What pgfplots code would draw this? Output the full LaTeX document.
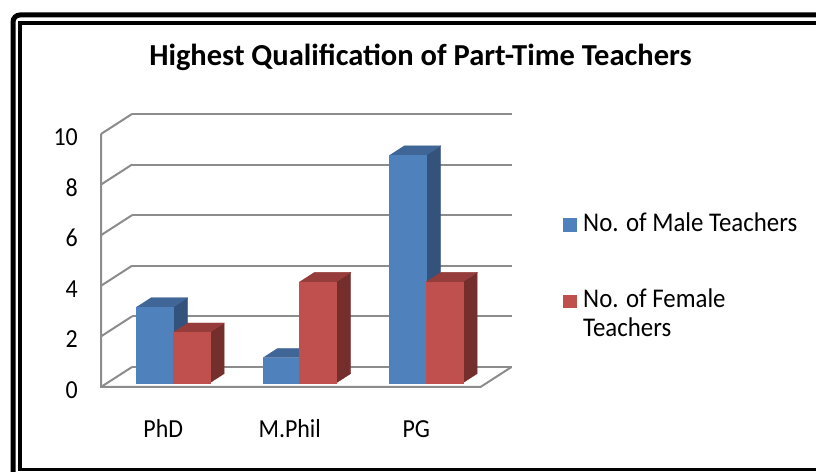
\documentclass[border=0pt]{standalone}
\usepackage{pgfplots}
\pgfplotsset{compat=1.18}
\usepackage{fontspec}
\setmainfont{Carlito}
\newfontfamily\condfont[FakeStretch=0.92]{Carlito}
\definecolor{bfront}{HTML}{4F81BD}
\definecolor{btop}{HTML}{3F6696}
\definecolor{bside}{HTML}{33527C}
\definecolor{rfront}{HTML}{C0504D}
\definecolor{rtop}{HTML}{963D3B}
\definecolor{rside}{HTML}{742E2C}
\definecolor{gridc}{HTML}{8C8C8C}
\newcommand{\lblfont}{\condfont\fontsize{26bp}{30bp}\selectfont}
\newcommand{\legfont}{\condfont\fontsize{27bp}{31bp}\selectfont}
\begin{document}
\begin{tikzpicture}
\begin{scope}[x=1bp,y=1bp]
\path[use as bounding box, clip] (0,0) rectangle (816,472);
\draw[line width=5bp, rounded corners=7bp] (13,-20) rectangle (840,457);
\draw[line width=3.5bp] (20,2.5) rectangle (840,449);
\node[anchor=base, inner sep=0pt, font=\bfseries\fontsize{30.5bp}{35bp}\selectfont] at (420.5,406) {Highest Qualification of Part-Time Teachers};
\end{scope}
\begin{axis}[at={(101bp,85bp)}, anchor=origin,
  x={(126.5bp,0bp)}, y={(31bp,20bp)}, z={(0bp,25.3bp)},
  xmin=0, xmax=3, ymin=0, ymax=1, zmin=0, zmax=10,
  hide axis, clip=false]
% walls and floor
\addplot3[gridc, line width=2bp] coordinates {(0,1,0) (3,1,0)};
\addplot3[gridc, line width=2bp] coordinates {(0,1,2) (3,1,2)};
\addplot3[gridc, line width=2bp] coordinates {(0,1,4) (3,1,4)};
\addplot3[gridc, line width=2bp] coordinates {(0,1,6) (3,1,6)};
\addplot3[gridc, line width=2bp] coordinates {(0,1,8) (3,1,8)};
\addplot3[gridc, line width=2bp] coordinates {(0,1,10) (3,1,10)};
\addplot3[gridc, line width=2bp] coordinates {(0,0,0) (0,1,0)};
\addplot3[gridc, line width=2bp] coordinates {(0,0,2) (0,1,2)};
\addplot3[gridc, line width=2bp] coordinates {(0,0,4) (0,1,4)};
\addplot3[gridc, line width=2bp] coordinates {(0,0,6) (0,1,6)};
\addplot3[gridc, line width=2bp] coordinates {(0,0,8) (0,1,8)};
\addplot3[gridc, line width=2bp] coordinates {(0,0,10) (0,1,10)};
\addplot3[gridc, line width=2bp] coordinates {(0,0,10) (0,0,0) (3,0,0) (3,1,0)};
% PhD: male 3, female 2
\addplot3[fill=bside, draw=bside, line width=0.3bp] coordinates {(0.52,0.2,0) (0.52,0.67,0) (0.52,0.67,3) (0.52,0.2,3)};
\addplot3[fill=btop, draw=btop, line width=0.3bp] coordinates {(0.23,0.2,3) (0.52,0.2,3) (0.52,0.67,3) (0.23,0.67,3)};
\addplot3[fill=bfront, draw=bfront, line width=0.3bp] coordinates {(0.23,0.2,0) (0.52,0.2,0) (0.52,0.2,3) (0.23,0.2,3)};
\addplot3[fill=rside, draw=rside, line width=0.3bp] coordinates {(0.81,0.2,0) (0.81,0.67,0) (0.81,0.67,2) (0.81,0.2,2)};
\addplot3[fill=rtop, draw=rtop, line width=0.3bp] coordinates {(0.52,0.2,2) (0.81,0.2,2) (0.81,0.67,2) (0.52,0.67,2)};
\addplot3[fill=rfront, draw=rfront, line width=0.3bp] coordinates {(0.52,0.2,0) (0.81,0.2,0) (0.81,0.2,2) (0.52,0.2,2)};
% M.Phil: male 1, female 4
\addplot3[fill=bside, draw=bside, line width=0.3bp] coordinates {(1.52,0.2,0) (1.52,0.67,0) (1.52,0.67,1) (1.52,0.2,1)};
\addplot3[fill=btop, draw=btop, line width=0.3bp] coordinates {(1.23,0.2,1) (1.52,0.2,1) (1.52,0.67,1) (1.23,0.67,1)};
\addplot3[fill=bfront, draw=bfront, line width=0.3bp] coordinates {(1.23,0.2,0) (1.52,0.2,0) (1.52,0.2,1) (1.23,0.2,1)};
\addplot3[fill=rside, draw=rside, line width=0.3bp] coordinates {(1.81,0.2,0) (1.81,0.67,0) (1.81,0.67,4) (1.81,0.2,4)};
\addplot3[fill=rtop, draw=rtop, line width=0.3bp] coordinates {(1.52,0.2,4) (1.81,0.2,4) (1.81,0.67,4) (1.52,0.67,4)};
\addplot3[fill=rfront, draw=rfront, line width=0.3bp] coordinates {(1.52,0.2,0) (1.81,0.2,0) (1.81,0.2,4) (1.52,0.2,4)};
% PG: male 9, female 4
\addplot3[fill=bside, draw=bside, line width=0.3bp] coordinates {(2.52,0.2,0) (2.52,0.67,0) (2.52,0.67,9) (2.52,0.2,9)};
\addplot3[fill=btop, draw=btop, line width=0.3bp] coordinates {(2.23,0.2,9) (2.52,0.2,9) (2.52,0.67,9) (2.23,0.67,9)};
\addplot3[fill=bfront, draw=bfront, line width=0.3bp] coordinates {(2.23,0.2,0) (2.52,0.2,0) (2.52,0.2,9) (2.23,0.2,9)};
\addplot3[fill=rside, draw=rside, line width=0.3bp] coordinates {(2.81,0.2,0) (2.81,0.67,0) (2.81,0.67,4) (2.81,0.2,4)};
\addplot3[fill=rtop, draw=rtop, line width=0.3bp] coordinates {(2.52,0.2,4) (2.81,0.2,4) (2.81,0.67,4) (2.52,0.67,4)};
\addplot3[fill=rfront, draw=rfront, line width=0.3bp] coordinates {(2.52,0.2,0) (2.81,0.2,0) (2.81,0.2,4) (2.52,0.2,4)};
% tick labels
\node[anchor=base east, inner sep=0pt, font=\lblfont, xshift=-23bp, yshift=-11.5bp] at (axis cs:0,0,0) {0};
\node[anchor=base east, inner sep=0pt, font=\lblfont, xshift=-23bp, yshift=-11.5bp] at (axis cs:0,0,2) {2};
\node[anchor=base east, inner sep=0pt, font=\lblfont, xshift=-23bp, yshift=-11.5bp] at (axis cs:0,0,4) {4};
\node[anchor=base east, inner sep=0pt, font=\lblfont, xshift=-23bp, yshift=-11.5bp] at (axis cs:0,0,6) {6};
\node[anchor=base east, inner sep=0pt, font=\lblfont, xshift=-23bp, yshift=-11.5bp] at (axis cs:0,0,8) {8};
\node[anchor=base east, inner sep=0pt, font=\lblfont, xshift=-23bp, yshift=-11.5bp] at (axis cs:0,0,10) {10};
\node[anchor=base, inner sep=0pt, font=\lblfont, xshift=-3.5bp, yshift=-51bp] at (axis cs:0.52,0,0) {PhD};
\node[anchor=base, inner sep=0pt, font=\lblfont, xshift=-3.5bp, yshift=-51bp] at (axis cs:1.52,0,0) {M.Phil};
\node[anchor=base, inner sep=0pt, font=\lblfont, xshift=-3.5bp, yshift=-51bp] at (axis cs:2.52,0,0) {PG};
\end{axis}
\begin{scope}[x=1bp,y=1bp]
\fill[bfront] (563,240) rectangle (577,254);
\node[anchor=base west, inner sep=0pt, font=\legfont] at (583,240) {No. of Male Teachers};
\fill[rfront] (563,164) rectangle (577,177);
\node[anchor=base west, inner sep=0pt, font=\legfont] at (583,164) {No. of Female};
\node[anchor=base west, inner sep=0pt, font=\legfont] at (583,135) {Teachers};
\end{scope}
\end{tikzpicture}
\end{document}
